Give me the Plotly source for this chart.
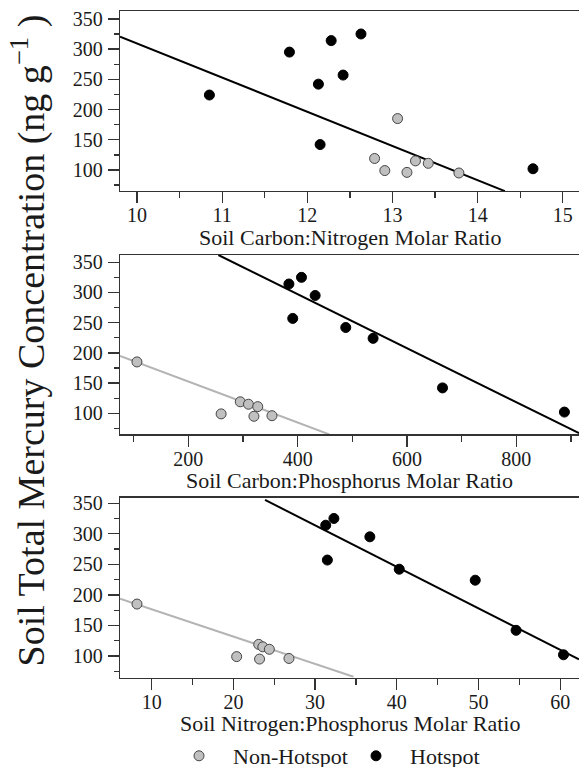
import plotly.graph_objects as go

# ---------------- data ----------------
hot_hg = [325, 314, 295, 257, 242, 224, 142, 102]
hot_cn = [12.63, 12.28, 11.79, 12.42, 12.13, 10.85, 12.15, 14.65]
hot_cp = [407, 384, 432, 391, 488, 538, 665, 888]
hot_np = [32.3, 31.3, 36.7, 31.5, 40.3, 49.6, 54.6, 60.4]

non_hg = [185, 119, 115, 111, 99, 96, 95]
non_cn = [13.06, 12.79, 13.27, 13.42, 12.91, 13.17, 13.78]
non_cp = [106, 295, 310, 327, 260, 353, 320]
non_np = [8.2, 23.1, 23.6, 24.4, 20.4, 26.8, 23.2]

# regression lines (end points)
cn_all_fit_x = [9.8, 14.32]
cn_all_fit_y = [320.7, 65]
cp_hot_fit_x = [255, 914.7]
cp_hot_fit_y = [362, 67]
cp_non_fit_x = [75, 458]
cp_non_fit_y = [195, 65]
np_hot_fit_x = [23.87, 62.3]
np_hot_fit_y = [355.4, 94.6]
np_non_fit_x = [6.12, 34.7]
np_non_fit_y = [193.8, 66.1]

x_titles = ["Soil Carbon:Nitrogen Molar Ratio",
            "Soil Carbon:Phosphorus Molar Ratio",
            "Soil Nitrogen:Phosphorus Molar Ratio"]
y_title = "Soil Total Mercury Concentration (ng g<sup>−1</sup> )"
y_ticks = [100, 150, 200, 250, 300, 350]

# ---------------- layout helpers ----------------
W, H = 600, 767          # wider than the 579 px window: the frame runs off the right edge
ML = 120
FONT = "Liberation Serif"
TXT = "#1a1a1a"
AX = "#333333"
GRAY_FILL = "#c0c0c0"
GRAY_LINE = "#b4b4b4"


def py(pix):
    return (H - pix) / H


def px(pix):
    return (pix - ML) / (W - ML)


panels = [  # top, bottom in px ; y range ; x range ; x dtick ; minor dtick
    dict(top=11, bot=191, yr=[65.2, 363], xr=[9.8, 15.437], dt=1, mdt=0.5, t0=10),
    dict(top=255, bot=434.3, yr=[65.2, 362], xr=[75, 953.1], dt=200, mdt=100, t0=200),
    dict(top=497.7, bot=677.7, yr=[64.5, 359], xr=[6.12, 64.87], dt=10, mdt=5, t0=10),
]

fig = go.Figure()

hot_mk = dict(color="black", size=10, line=dict(color="black", width=1))
non_mk = dict(color=GRAY_FILL, size=10, line=dict(color="#444444", width=1))

xs_hot = [hot_cn, hot_cp, hot_np]
xs_non = [non_cn, non_cp, non_np]
fits = [
    [(cn_all_fit_x, cn_all_fit_y, "black")],
    [(cp_non_fit_x, cp_non_fit_y, GRAY_LINE), (cp_hot_fit_x, cp_hot_fit_y, "black")],
    [(np_non_fit_x, np_non_fit_y, GRAY_LINE), (np_hot_fit_x, np_hot_fit_y, "black")],
]

for i in range(3):
    xa = "x" if i == 0 else f"x{i+1}"
    ya = "y" if i == 0 else f"y{i+1}"
    for fx, fy, col in fits[i]:
        fig.add_trace(go.Scatter(x=fx, y=fy, mode="lines", xaxis=xa, yaxis=ya,
                                 line=dict(color=col, width=2), showlegend=False,
                                 hoverinfo="skip"))
    fig.add_trace(go.Scatter(x=xs_non[i], y=non_hg, mode="markers", xaxis=xa, yaxis=ya,
                             marker=non_mk, name="Non-Hotspot", showlegend=(i == 0),
                             legendrank=1))
    fig.add_trace(go.Scatter(x=xs_hot[i], y=hot_hg, mode="markers", xaxis=xa, yaxis=ya,
                             marker=hot_mk, name="Hotspot", showlegend=(i == 0),
                             legendrank=2))

layout = dict(
    template="none",
    width=W, height=H,
    margin=dict(l=ML, r=0, t=0, b=0, autoexpand=False),
    plot_bgcolor="white", paper_bgcolor="white",
    font=dict(family=FONT, color=TXT, size=20),
    showlegend=True,
    legend=dict(orientation="h", x=px(165), y=py(756), xanchor="left", yanchor="middle",
                font=dict(size=22, family=FONT, color=TXT), bgcolor="rgba(0,0,0,0)",
                traceorder="normal", itemsizing="trace", itemwidth=58,
                entrywidth=104, entrywidthmode="pixels"),
)

annotations = []
for i, p in enumerate(panels):
    sx = "" if i == 0 else str(i + 1)
    layout[f"xaxis{sx}"] = dict(
        domain=[0, 1], range=p["xr"], anchor=f"y{sx}", automargin=False,
        showgrid=False, zeroline=False, showline=True, linecolor=AX, linewidth=1.3,
        mirror=True, ticks="outside", ticklen=11, tickwidth=1.3, tickcolor=AX,
        tick0=p["t0"], dtick=p["dt"], tickfont=dict(size=20, family=FONT, color=TXT),
        ticklabelstandoff=-5,
        minor=dict(ticks="outside", ticklen=6, dtick=p["mdt"], tick0=p["t0"],
                   tickcolor=AX, tickwidth=1.3, showgrid=False),
        fixedrange=True,
    )
    layout[f"yaxis{sx}"] = dict(
        domain=[py(p["bot"]), py(p["top"])], range=p["yr"], anchor=f"x{sx}",
        automargin=False,
        showgrid=False, zeroline=False, showline=True, linecolor=AX, linewidth=1.3,
        mirror=False, ticks="outside", ticklen=11, tickwidth=1.3, tickcolor=AX,
        tickvals=y_ticks, tickfont=dict(size=20, family=FONT, color=TXT),
        ticklabelstandoff=1,
        minor=dict(ticks="outside", ticklen=5, dtick=25, tick0=0,
                   tickcolor=AX, tickwidth=1.3, showgrid=False),
        fixedrange=True,
    )
    annotations.append(dict(text=x_titles[i], xref="paper", yref="paper",
                            x=px(349.5), y=py(p["bot"] + 46), xanchor="center",
                            yanchor="middle", showarrow=False,
                            font=dict(size=22, family=FONT, color=TXT)))

annotations.append(dict(text=y_title, xref="paper", yref="paper", x=px(29), y=py(340.5),
                        xanchor="center", yanchor="middle", textangle=-90,
                        showarrow=False, font=dict(size=38, family=FONT, color=TXT)))
layout["annotations"] = annotations

fig.update_layout(**layout)
fig.write_html(
    "out.html",
    config={"displayModeBar": False, "staticPlot": True},
    post_script=("document.body.style.margin='0';document.body.style.padding='0';"
                 "document.body.style.overflow='hidden';"
                 "document.documentElement.style.overflow='hidden';"),
)
